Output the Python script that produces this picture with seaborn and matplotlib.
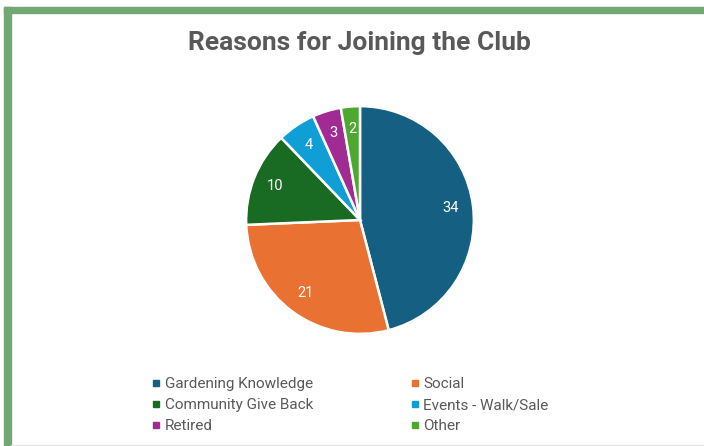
import matplotlib.pyplot as plt
import seaborn as sns
from matplotlib.patches import Rectangle
from matplotlib.lines import Line2D

# dane
reasons = ["Gardening Knowledge", "Social", "Community Give Back",
           "Events - Walk/Sale", "Retired", "Other"]
counts = [34, 21, 10, 4, 3, 2]
colors = ["#156082", "#E97132", "#196B24", "#0F9ED5", "#A02B93", "#4EA72E"]

sns.set_theme(style="white")
plt.rcParams['font.family'] = ['Roboto', 'DejaVu Sans']

fig = plt.figure(figsize=(7.04, 4.46), dpi=100)
W, H = 704, 446

# ramka
fig.patches.append(Rectangle((4 / W, 0), 7 / W, 1 - 7 / H, transform=fig.transFigure,
                             color="#72A876", zorder=0))
fig.patches.append(Rectangle((4 / W, 1 - 13 / H), 1 - 4 / W, 6 / H, transform=fig.transFigure,
                             color="#72A876", zorder=0))
fig.patches.append(Rectangle((11 / W, 0), 1 - 11 / W, 1.5 / H, transform=fig.transFigure,
                             color="#E6E6E6", zorder=0))

# wykres kołowy
r = 115
cx, cy = 360, 220
ax = fig.add_axes([(cx - r) / W, 1 - (cy + r) / H, 2 * r / W, 2 * r / H])
palette = sns.color_palette(colors)
wedges, _, autotexts = ax.pie(
    counts, colors=palette, startangle=90, counterclock=False,
    autopct=lambda p: f"{round(p * sum(counts) / 100):d}", pctdistance=0.8,
    wedgeprops=dict(edgecolor="white", linewidth=1.8),
    textprops=dict(color="white", fontsize=10.5))
ax.set_xlim(-1.01, 1.01)
ax.set_ylim(-1.01, 1.01)
ax.set_aspect("equal")

fig.text(359 / W, 1 - 43 / H, "Reasons for Joining the Club", ha="center", va="center",
         fontsize=19, fontweight="bold", color="#595959")

# legenda
handles = [Line2D([], [], marker="s", linestyle="none", markersize=5,
                  markerfacecolor=c, markeredgecolor=c) for c in colors]
order = [0, 2, 4, 1, 3, 5]
leg = fig.legend([handles[i] for i in order], [reasons[i] for i in order],
                 ncol=2, loc="center left", bbox_to_anchor=(145 / W, 1 - 405 / H),
                 frameon=False, fontsize=11, labelcolor="#595959",
                 handlelength=0.5, handletextpad=0.3, columnspacing=6.4,
                 labelspacing=0.45, borderpad=0)

fig.savefig("out.png", dpi=100, facecolor="white")
